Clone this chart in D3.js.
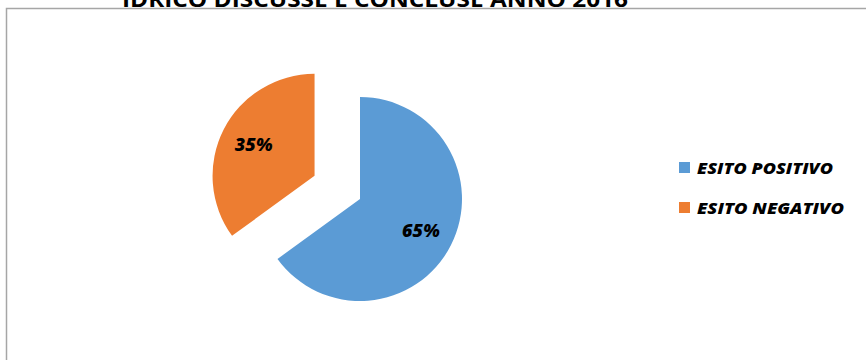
<!DOCTYPE html>
<html>
<head>
<meta charset="utf-8">
<script src="https://cdn.jsdelivr.net/npm/d3@7"></script>
<style>
  html, body { margin: 0; padding: 0; background: #ffffff; }
  svg { display: block; }
</style>
</head>
<body>
<script>
// Esiti delle pratiche
const categories = ["ESITO POSITIVO", "ESITO NEGATIVO"];
const values = [65, 35];
const colors = ["#5b9bd5", "#ed7d31"];
const exploded = [0, 1];

const W = 866, H = 360;
const FONT = "'Open Sans', Lato, sans-serif";
const svg = d3.select("body").append("svg").attr("width", W).attr("height", H);

// chart frame
svg.append("path")
  .attr("d", `M6.5,${H} L6.5,8.5 L${W},8.5`)
  .attr("fill", "none").attr("stroke", "#a6a6a6").attr("stroke-width", 1.5);

// title (partially above the frame)
svg.append("text")
  .attr("x", 122).attr("y", 7)
  .attr("textLength", 506).attr("lengthAdjust", "spacingAndGlyphs")
  .attr("font-family", FONT)
  .attr("font-weight", "bold").attr("font-size", 21).attr("fill", "#000")
  .text("IDRICO DISCUSSE E CONCLUSE  ANNO 2016");

const cx = 360, cy = 199, r = 102, explode = 51;
const pie = d3.pie().sort(null).value(d => d)(values);
const arc = d3.arc().innerRadius(0).outerRadius(r);
const labelArc = d3.arc().innerRadius(r * 0.67).outerRadius(r * 0.67);

const g = svg.append("g").attr("transform", `translate(${cx},${cy})`);
const slices = g.selectAll("g.slice").data(pie).enter().append("g")
  .attr("class", "slice")
  .attr("transform", (d, i) => {
    if (!exploded[i]) return null;
    const a = (d.startAngle + d.endAngle) / 2;
    return `translate(${explode * Math.sin(a)},${-explode * Math.cos(a)})`;
  });

slices.append("path").attr("d", arc).attr("fill", (d, i) => colors[i]);

slices.append("text")
  .attr("transform", d => {
    const c = labelArc.centroid(d);
    return `translate(${c[0]},${c[1]})`;
  })
  .attr("text-anchor", "middle").attr("dy", "0.36em")
  .attr("font-family", FONT)
  .attr("font-weight", 800).attr("font-style", "italic")
  .attr("font-size", 18).attr("fill", "#000")
  .text(d => d.value + "%");

// legend
const legend = svg.append("g").attr("transform", "translate(679,162)");
const items = legend.selectAll("g").data(categories).enter().append("g")
  .attr("transform", (d, i) => `translate(0,${i * 40})`);
items.append("rect").attr("width", 11).attr("height", 11)
  .attr("fill", (d, i) => colors[i]);
items.append("text").attr("x", 18).attr("y", 11.5)
  .attr("textLength", (d, i) => i === 0 ? 136 : 147)
  .attr("lengthAdjust", "spacingAndGlyphs")
  .attr("font-family", FONT)
  .attr("font-weight", 800).attr("font-style", "italic")
  .attr("font-size", 16.5).attr("fill", "#000")
  .text(d => d);
</script>
</body>
</html>
